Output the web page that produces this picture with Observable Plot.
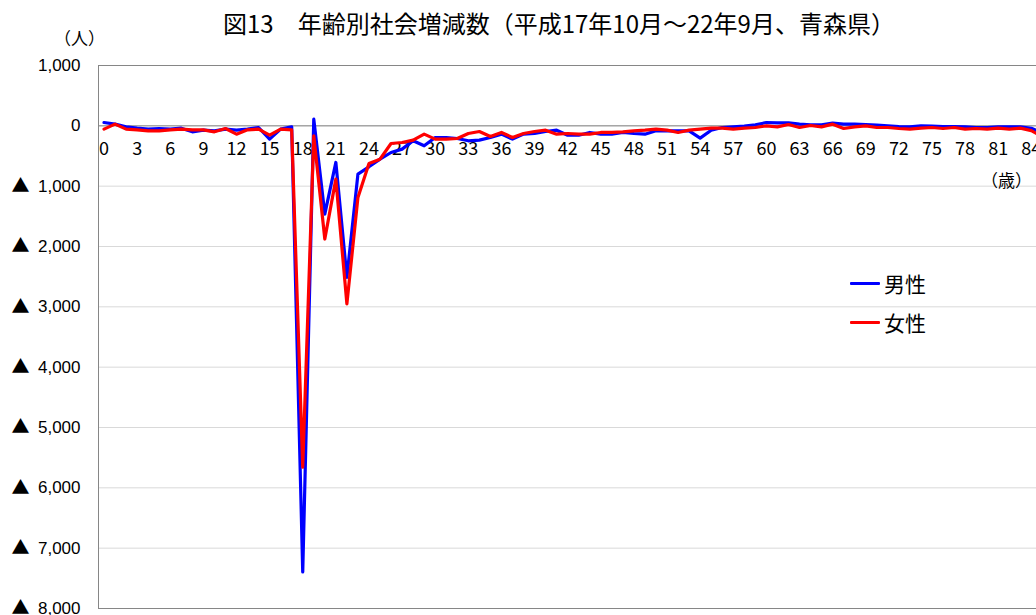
<!DOCTYPE html>
<html>
<head>
<meta charset="utf-8">
<script src="https://cdn.jsdelivr.net/npm/d3@7"></script>
<script src="https://cdn.jsdelivr.net/npm/@observablehq/plot@0.6"></script>
<style>
  html, body { margin: 0; padding: 0; overflow: hidden; background: #fff; }
  #wrap { position: relative; width: 1036px; height: 615px; overflow: hidden; }
  .lbl { position: absolute; font-family: "Noto Sans CJK JP", sans-serif; color: #000; white-space: nowrap; line-height: 1; }
  #title { left: 0; width: 1118px; top: 11px; text-align: center; font-size: 24px; }
  #unitY { left: 54px; top: 29px; font-size: 17px; }
  #unitX { left: 981px; top: 171px; font-size: 17px; }
  .leg { position: absolute; display: flex; align-items: center; font-family: "Noto Sans CJK JP", sans-serif; font-size: 21px; line-height: 1; }
  .leg span.sw { display: inline-block; width: 30px; height: 3px; margin-right: 4px; border-radius: 1px; }
</style>
</head>
<body>
<div id="wrap">
  <div id="chart"></div>
  <div id="title" class="lbl">図13　年齢別社会増減数（平成17年10月～22年9月、青森県）</div>
  <div id="unitY" class="lbl">（人）</div>
  <div id="unitX" class="lbl">（歳）</div>
  <div class="leg" style="left:850px; top:273px;"><span class="sw" style="background:#0000ff"></span>男性</div>
  <div class="leg" style="left:850px; top:312px;"><span class="sw" style="background:#ff0000"></span>女性</div>
</div>
<script>
const ages = d3.range(0, 86);
const male = [55, 28, -17, -39, -55, -44, -55, -39, -99, -72,
  -83, -55, -72, -55, -28, -221, -55, -17, -7395, 110,
  -1462, -607, -2511, -800, -679, -552, -442, -386, -248, -331,
  -193, -193, -210, -248, -237, -193, -138, -221, -138, -127,
  -94, -72, -155, -155, -110, -138, -138, -110, -127, -138,
  -83, -83, -83, -83, -204, -72, -28, -17, -5, 17,
  55, 50, 50, 28, 17, 17, 44, 28, 28, 22,
  11, 0, -11, -17, 0, -5, -11, -11, -17, -28,
  -28, -17, -17, -17, -40, -120];
const female = [-55, 28, -55, -66, -83, -83, -66, -55, -66, -66,
  -99, -44, -138, -66, -55, -155, -55, -66, -5657, -165,
  -1876, -883, -2952, -1187, -624, -552, -293, -276, -237, -138,
  -221, -221, -210, -127, -94, -177, -110, -193, -127, -94,
  -72, -138, -127, -138, -138, -110, -110, -99, -83, -72,
  -55, -72, -110, -72, -55, -39, -39, -55, -39, -28,
  0, -17, 22, -28, 5, -17, 28, -44, -17, 0,
  -28, -28, -44, -55, -39, -28, -44, -28, -55, -44,
  -55, -39, -55, -39, -80, -180];
const xTicks = d3.range(0, 87, 3);
const yTicks = [1000, 0, -1000, -2000, -3000, -4000, -5000, -6000, -7000, -8000];
const seriesNames = ["男性", "女性"];
const seriesColors = ["#0000ff", "#ff0000"];

const rows = [];
ages.forEach((a, i) => {
  rows.push({age: a, value: male[i], s: seriesNames[0]});
  rows.push({age: a, value: female[i], s: seriesNames[1]});
});

const fmt = d3.format(",");

const chart = Plot.plot({
  width: 1040,
  height: 615,
  marginLeft: 98,
  marginTop: 65,
  marginBottom: 7,
  marginRight: 0,
  style: {maxWidth: "none", background: "white", overflow: "hidden"},
  x: {domain: [-0.5, 84.83], axis: null},
  y: {domain: [-8000, 1000], axis: null},
  color: {domain: seriesNames, range: seriesColors},
  marks: [
    Plot.gridY(yTicks, {stroke: "#d9d9d9", strokeOpacity: 1, strokeWidth: 1}),
    Plot.ruleY([0, 1000, -8000], {stroke: "#868686", strokeWidth: 1}),
    Plot.ruleX([-0.5], {stroke: "#868686", strokeWidth: 1}),
    Plot.text(yTicks, {y: d => d, frameAnchor: "left", dx: -18, textAnchor: "end", text: d => fmt(Math.abs(d)), fontSize: 17, fontFamily: "Liberation Sans, Arial, sans-serif", fill: "#000"}),
    Plot.text(yTicks.filter(d => d < 0), {y: d => d, frameAnchor: "left", dx: -87, textAnchor: "start", text: () => "▲", fontSize: 18, fontFamily: "Noto Sans CJK JP, sans-serif", fill: "#000"}),
    Plot.text(xTicks, {x: d => d, y: 0, dy: 23, text: d => String(d), fontSize: 18, fontFamily: "Noto Sans CJK JP, sans-serif", fill: "#000"}),
    Plot.line(rows, {x: "age", y: "value", z: "s", stroke: "s", strokeWidth: 3.2, strokeLinejoin: "round", strokeLinecap: "round", clip: true})
  ]
});
document.getElementById("chart").appendChild(chart);
</script>
</body>
</html>
